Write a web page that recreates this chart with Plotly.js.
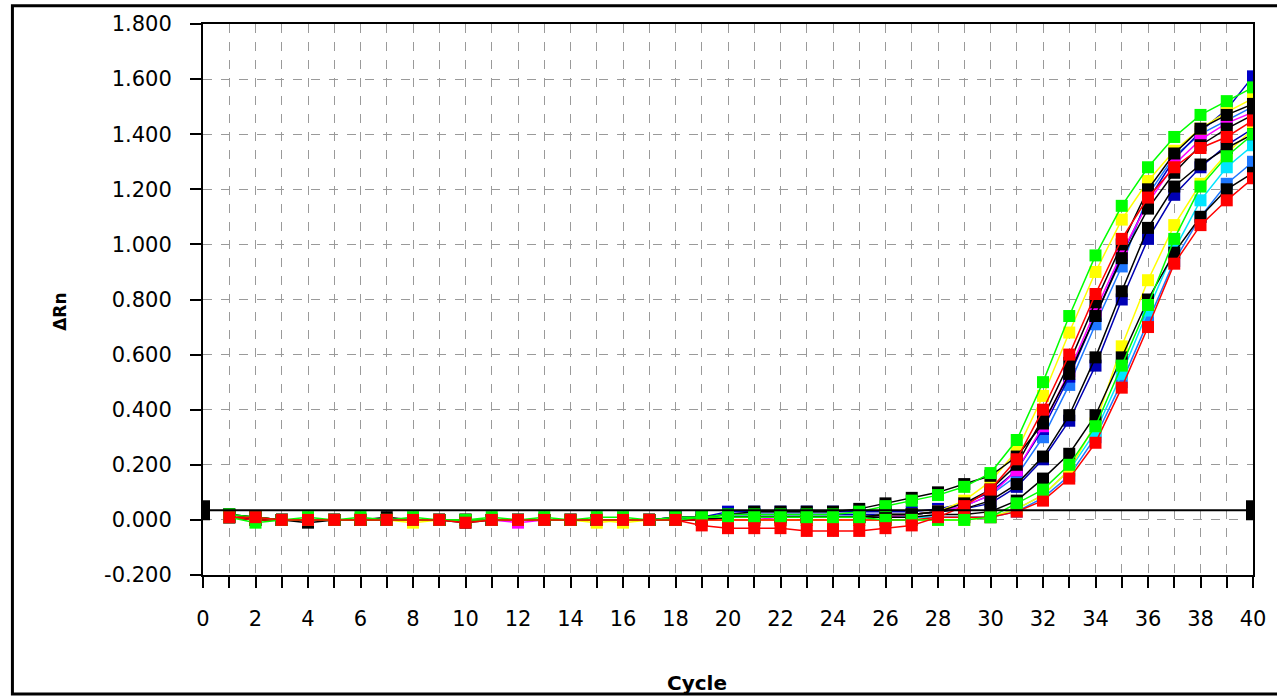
<!DOCTYPE html>
<html>
<head>
<meta charset="utf-8">
<script src="https://cdn.plot.ly/plotly-3.0.1.min.js"></script>
<style>
  html, body { margin: 0; padding: 0; background: #fff; }
  #chart { width: 1277px; height: 697px; }
</style>
</head>
<body>
<div id="chart"></div>
<script>
// ---- data ----
const cycles = [1,2,3,4,5,6,7,8,9,10,11,12,13,14,15,16,17,18,19,20,21,22,23,24,25,26,27,28,29,30,31,32,33,34,35,36,37,38,39,40];

const greenA = [0.02,0.01,0.00,0.01,0.00,0.01,0.00,0.01,0.00,0.00, 0.01,0.00,0.01,0.00,0.01,0.01,0.00,0.01,0.01,0.02, 0.02,0.02,0.02,0.02,0.03,0.05,0.07,0.09,0.12,0.17, 0.29,0.50,0.74,0.96,1.14,1.28,1.39,1.47,1.52,1.57];
const yellowA = [0.01,0.01,0.00,0.00,0.00,0.00,0.00,0.00,0.00,0.00, 0.00,0.00,0.00,0.00,0.00,-0.01,0.00,0.00,0.00,0.01, 0.01,0.01,0.01,0.01,0.01,0.02,0.02,0.03,0.07,0.14, 0.25,0.45,0.68,0.90,1.09,1.23,1.34,1.42,1.48,1.53];
const redA = [0.01,0.01,0.00,0.00,0.00,0.00,0.00,0.00,0.00,-0.01, 0.00,0.00,0.00,0.00,0.00,0.00,0.00,0.00,-0.02,-0.03, -0.03,-0.03,-0.04,-0.04,-0.04,-0.03,-0.02,0.01,0.05,0.11, 0.22,0.40,0.60,0.82,1.02,1.17,1.28,1.35,1.39,1.45];
const blackA = [0.02,0.01,0.00,-0.01,0.00,0.00,0.00,0.00,0.00,-0.01, 0.00,0.00,0.00,0.00,0.00,0.00,0.00,0.00,0.00,0.01, 0.01,0.01,0.01,0.01,0.01,0.02,0.02,0.03,0.06,0.11, 0.20,0.37,0.57,0.79,1.00,1.20,1.33,1.42,1.47,1.51];
const magentaA = [0.01,0.00,0.00,0.00,0.00,0.00,0.00,0.00,0.00,0.00, 0.00,-0.01,0.00,0.00,0.00,0.00,0.00,0.00,0.00,0.00, 0.00,0.01,0.01,0.01,0.01,0.01,0.02,0.03,0.05,0.09, 0.18,0.34,0.54,0.76,0.97,1.15,1.29,1.38,1.44,1.48];
const navyA = [0.01,0.01,0.00,0.00,0.00,0.00,0.00,0.00,0.00,0.00, 0.00,0.00,0.00,0.00,0.00,0.00,0.00,0.01,0.01,0.03, 0.03,0.03,0.03,0.03,0.03,0.03,0.03,0.04,0.06,0.10, 0.18,0.33,0.52,0.74,0.96,1.16,1.31,1.41,1.49,1.61];
const lightBlueA = [0.01,0.00,0.00,0.00,0.00,0.00,0.00,0.00,0.00,0.00, 0.00,0.00,0.00,0.00,0.00,0.00,0.00,0.01,0.01,0.02, 0.02,0.02,0.02,0.02,0.02,0.02,0.02,0.03,0.05,0.09, 0.16,0.30,0.49,0.71,0.92,1.18,1.32,1.40,1.45,1.50];
const blackDrift = [0.02,0.01,0.00,0.00,0.00,0.00,0.01,0.00,0.00,0.00, 0.00,0.00,0.00,0.00,0.00,0.00,0.00,0.01,0.01,0.02, 0.03,0.03,0.03,0.03,0.04,0.06,0.08,0.10,0.13,0.16, 0.23,0.35,0.53,0.74,0.95,1.13,1.26,1.36,1.42,1.47];
const blackMid = [0.01,0.00,0.00,0.00,0.00,0.00,0.00,0.00,0.00,0.00, 0.00,0.00,0.00,0.00,0.00,0.00,0.00,0.00,0.00,0.01, 0.01,0.01,0.01,0.01,0.01,0.02,0.02,0.03,0.04,0.07, 0.13,0.23,0.38,0.59,0.83,1.06,1.21,1.29,1.35,1.40];
const navyMid = [0.01,0.00,0.00,0.00,0.00,0.00,0.00,0.00,0.00,0.00, 0.00,0.00,0.00,0.00,0.00,0.00,0.00,0.00,0.01,0.02, 0.02,0.02,0.02,0.02,0.02,0.02,0.02,0.03,0.04,0.06, 0.12,0.22,0.36,0.56,0.80,1.02,1.18,1.28,1.36,1.42];
const greenLate = [0.01,-0.01,0.00,0.00,0.00,0.00,0.00,0.00,0.00,0.00, 0.00,0.00,0.00,0.00,0.00,0.00,0.00,0.00,0.01,0.01, 0.01,0.01,0.01,0.01,0.01,0.00,0.00,0.00,0.00,0.01, 0.06,0.11,0.20,0.34,0.56,0.78,1.02,1.21,1.32,1.40];
const yellowLate = [0.01,0.00,0.00,0.00,0.00,0.00,0.00,-0.01,0.00,0.00, 0.00,0.00,0.00,0.00,-0.01,0.00,0.00,0.00,0.00,0.00, 0.00,0.00,0.00,0.00,0.00,0.00,0.00,0.00,0.00,0.01, 0.04,0.09,0.18,0.35,0.63,0.87,1.07,1.22,1.33,1.42];
const cyanLate = [0.01,0.00,0.00,0.00,0.00,0.00,0.00,0.00,0.00,0.00, 0.00,0.00,0.00,0.00,0.00,0.00,0.00,0.00,0.00,0.01, 0.01,0.01,0.01,0.01,0.01,0.01,0.01,0.01,0.01,0.01, 0.04,0.09,0.18,0.32,0.53,0.76,0.98,1.16,1.28,1.36];
const lightBlueLate = [0.01,0.00,0.00,0.00,0.00,0.00,0.00,0.00,0.00,0.00, 0.00,0.00,0.00,0.00,0.00,0.00,0.00,0.00,0.01,0.02, 0.02,0.02,0.02,0.02,0.02,0.01,0.01,0.01,0.01,0.01, 0.03,0.08,0.16,0.30,0.50,0.72,0.94,1.10,1.22,1.30];
const redLate = [0.01,0.00,0.00,0.00,0.00,0.00,0.00,0.00,0.00,0.00, 0.00,0.00,0.00,0.00,0.00,0.00,0.00,0.00,0.00,0.00, 0.00,0.00,0.00,0.00,0.00,0.00,0.00,0.01,0.01,0.01, 0.03,0.07,0.15,0.28,0.48,0.70,0.93,1.07,1.16,1.24];
const blackLate = [0.01,0.00,0.00,0.00,0.00,0.00,0.00,0.00,0.00,0.00, 0.00,0.00,0.00,0.00,0.00,0.00,0.00,0.00,0.00,0.01, 0.01,0.01,0.01,0.01,0.01,0.01,0.01,0.02,0.02,0.03, 0.07,0.15,0.24,0.38,0.59,0.80,0.97,1.10,1.20,1.26];

const threshold = 0.035;

const xTickVals = [0,2,4,6,8,10,12,14,16,18,20,22,24,26,28,30,32,34,36,38,40];
const yTickVals = [-0.2,0,0.2,0.4,0.6,0.8,1.0,1.2,1.4,1.6,1.8];
const yTickLabels = ["-0.200","0.000","0.200","0.400","0.600","0.800","1.000","1.200","1.400","1.600","1.800"];

// ---- series (drawing order: later on top) ----
const seriesList = [
  {y: lightBlueLate, color: '#1e78ff'},
  {y: cyanLate, color: '#00e5ff'},
  {y: lightBlueA, color: '#1e78ff'},
  {y: navyMid, color: '#0000b4'},
  {y: navyA, color: '#0000c8'},
  {y: magentaA, color: '#ff00ff'},
  {y: yellowLate, color: '#ffff00'},
  {y: yellowA, color: '#ffff00'},
  {y: blackLate, color: '#000000'},
  {y: blackMid, color: '#000000'},
  {y: blackDrift, color: '#000000'},
  {y: blackA, color: '#000000'},
  {y: redLate, color: '#ff0000'},
  {y: greenLate, color: '#00ff00'},
  {y: greenA, color: '#00ff00'},
  {y: redA, color: '#ff0000'}
];

const traces = seriesList.map(s => ({
  type: 'scatter',
  mode: 'lines+markers',
  x: cycles,
  y: s.y,
  line: {color: s.color, width: 1.5},
  marker: {symbol: 'square', size: 12, color: s.color},
  showlegend: false,
  hoverinfo: 'x+y'
}));

traces.push({
  type: 'scatter',
  mode: 'lines',
  x: [0, 40],
  y: [threshold, threshold],
  line: {color: '#000', width: 2},
  showlegend: false,
  hoverinfo: 'skip'
});

const gridStyle = {gridcolor: '#9a9a9a', griddash: 'dash', gridwidth: 1};

const layout = {
  width: 1277,
  height: 697,
  margin: {l: 203, r: 24, t: 24, b: 122},
  paper_bgcolor: '#fff',
  plot_bgcolor: '#fff',
  font: {family: 'DejaVu Sans, sans-serif', color: '#000', size: 21},
  xaxis: {
    range: [0, 40],
    tickvals: xTickVals,
    ticks: 'outside', ticklen: 11, tickwidth: 2, tickcolor: '#000',
    ticklabelstandoff: 13,
    showline: true, linecolor: '#000', linewidth: 2, mirror: true,
    zeroline: false,
    showgrid: true, ...gridStyle,
    minor: {dtick: 1, tick0: 0, ticks: 'outside', ticklen: 11, tickwidth: 2, tickcolor: '#000', showgrid: true, gridcolor: '#9a9a9a', griddash: 'dash', gridwidth: 1},
    tickfont: {size: 21}
  },
  yaxis: {
    range: [-0.2, 1.8],
    tickvals: yTickVals,
    ticktext: yTickLabels,
    ticks: 'outside', ticklen: 11, tickwidth: 2, tickcolor: '#000',
    ticklabelstandoff: 14,
    showline: true, linecolor: '#000', linewidth: 2, mirror: true,
    zeroline: false,
    showgrid: true, ...gridStyle,
    tickfont: {size: 21}
  },
  shapes: [
    {type: 'rect', xref: 'paper', yref: 'paper', x0: -0.1815, x1: 1.05, y0: -0.2160, y1: 1.0330,
     line: {color: '#000', width: 3}, fillcolor: 'rgba(0,0,0,0)', layer: 'above'},
    {type: 'rect', xref: 'x', yref: 'y', xsizemode: 'pixel', ysizemode: 'pixel',
     xanchor: 0, yanchor: threshold, x0: 0, x1: 7, y0: -10, y1: 10,
     line: {width: 0}, fillcolor: '#000'},
    {type: 'rect', xref: 'x', yref: 'y', xsizemode: 'pixel', ysizemode: 'pixel',
     xanchor: 40, yanchor: threshold, x0: -7, x1: 0, y0: -10, y1: 10,
     line: {width: 0}, fillcolor: '#000'}
  ],
  annotations: [
    {text: '<b>Cycle</b>', xref: 'paper', yref: 'paper', x: 0.4705, y: -0.196,
     xanchor: 'center', yanchor: 'middle', showarrow: false, font: {size: 20}},
    {text: '<b>ΔRn</b>', xref: 'paper', yref: 'paper', x: -0.1365, y: 0.477,
     xanchor: 'center', yanchor: 'middle', showarrow: false, textangle: -90, font: {size: 17}}
  ]
};

Plotly.newPlot('chart', traces, layout, {displayModeBar: false, staticPlot: true});
</script>
</body>
</html>
